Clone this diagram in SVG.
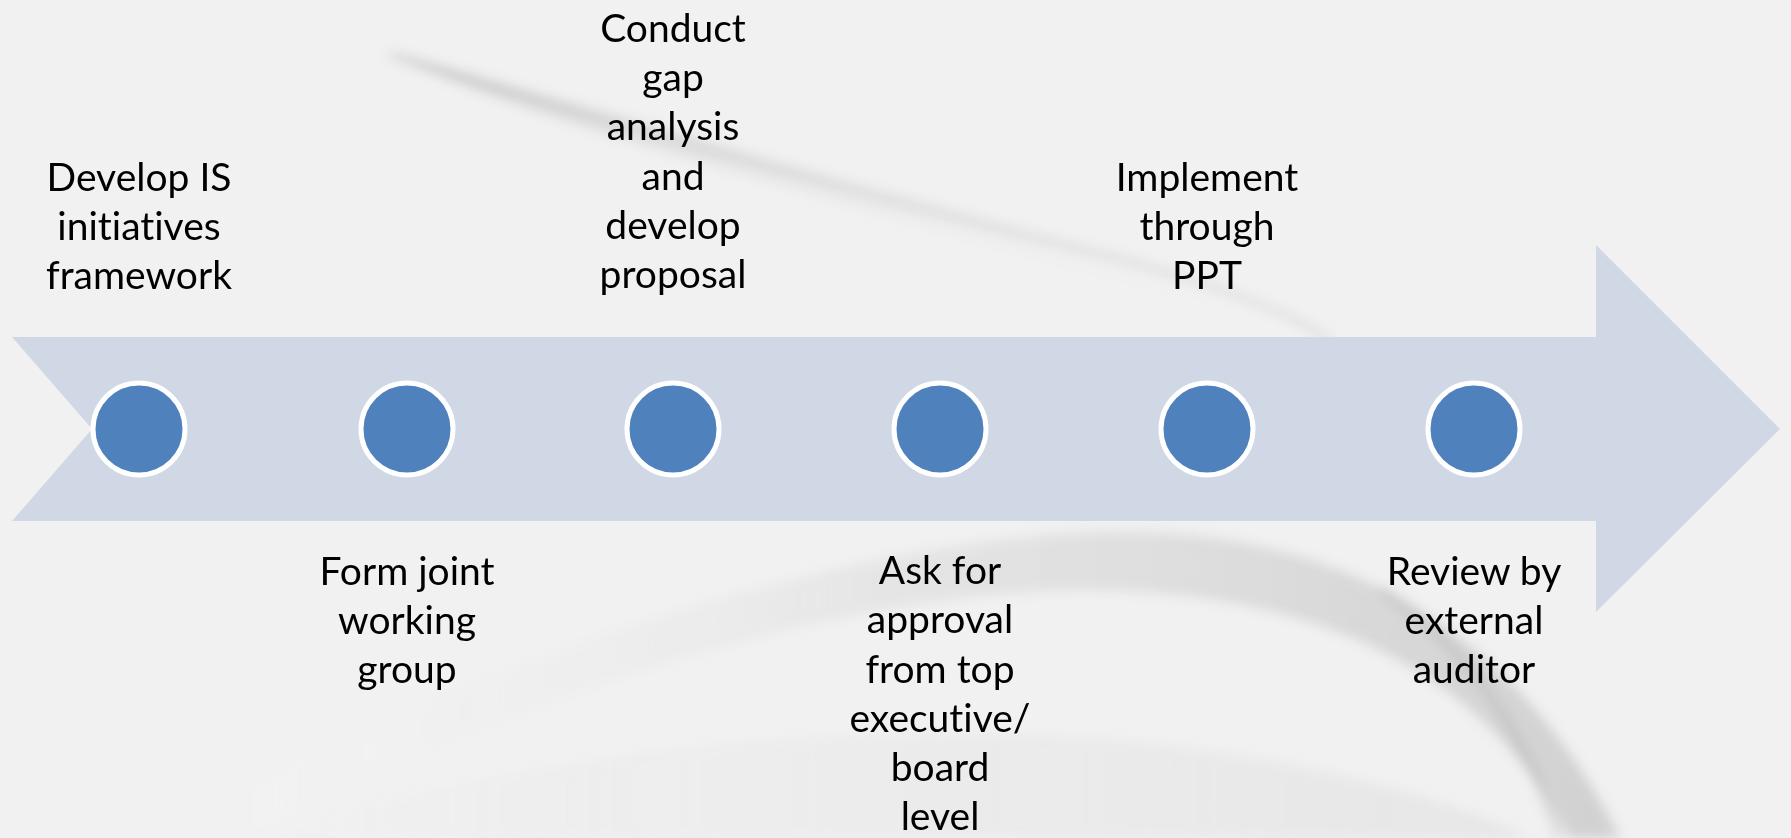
<svg xmlns="http://www.w3.org/2000/svg" width="1791" height="838" viewBox="0 0 1791 838">
<defs>
<linearGradient id="sw1" x1="0" y1="0" x2="0" y2="1">
<stop offset="0" stop-color="#a0a0a0" stop-opacity="0.45"/>
<stop offset="1" stop-color="#ffffff" stop-opacity="0"/>
</linearGradient>
<linearGradient id="sw2" gradientUnits="userSpaceOnUse" x1="140" y1="0" x2="1620" y2="0">
<stop offset="0" stop-color="#ffffff" stop-opacity="0"/>
<stop offset="0.5" stop-color="#d8d8d8" stop-opacity="0.45"/>
<stop offset="1" stop-color="#b0b0b0" stop-opacity="0.5"/>
</linearGradient>
<linearGradient id="sw3" gradientUnits="userSpaceOnUse" x1="240" y1="0" x2="1530" y2="0">
<stop offset="0" stop-color="#cccccc" stop-opacity="0"/>
<stop offset="1" stop-color="#c4c4c4" stop-opacity="0.45"/>
</linearGradient>
<filter id="blur" filterUnits="userSpaceOnUse" x="-50" y="-50" width="1891" height="938"><feGaussianBlur stdDeviation="6"/></filter>
<style>
.lbl{font-family:Lato,"Open Sans","Liberation Sans",sans-serif;font-size:39px;fill:#000;text-anchor:middle;font-variant-ligatures:none}
.dot{fill:#4f81bd;stroke:#ffffff;stroke-width:5}
</style>
</defs>
<rect width="1791" height="838" fill="#f1f1f1"/>
<g id="background" filter="url(#blur)">
<path d="M388,52 C600,110 900,200 1120,250 C1250,285 1310,320 1330,340 C1200,300 1000,250 800,190 C600,135 450,85 388,52 Z" fill="url(#sw1)"/>
<path d="M390,55 C620,125 900,205 1130,262 C1250,295 1310,325 1330,340" fill="none" stroke="#b0b0b0" stroke-width="5" opacity="0.35"/>
<path d="M140,838 C400,700 750,560 1050,535 C1300,515 1500,600 1620,838 L1570,838 C1480,660 1300,590 1080,590 C800,595 450,720 260,838 Z" fill="url(#sw2)"/>
<path d="M240,838 C500,760 800,720 1100,740 C1300,755 1450,800 1530,838 Z" fill="url(#sw3)" opacity="0.5"/>
<path d="M1560,838 C1520,720 1460,640 1380,590" fill="none" stroke="#a0a0a0" stroke-width="8" opacity="0.3"/>
</g>
<g id="arrow">
<polygon points="12,337 1596,337 1596,245 1780,429 1596,612 1596,521 12,521 92,429" fill="#d0d8e6"/>
</g>
<g id="connectors"></g>
<g id="node1"><circle class="dot" cx="139" cy="429" r="46"/>
<text class="lbl"><tspan x="139" y="191">Develop IS</tspan><tspan x="139" y="240">initiatives</tspan><tspan x="139" y="289">framework</tspan></text></g>
<g id="node2"><circle class="dot" cx="407" cy="429" r="46"/>
<text class="lbl"><tspan x="407" y="585">Form joint</tspan><tspan x="407" y="634">working</tspan><tspan x="407" y="683">group</tspan></text></g>
<g id="node3"><circle class="dot" cx="673" cy="429" r="46"/>
<text class="lbl"><tspan x="673" y="42">Conduct</tspan><tspan x="673" y="91">gap</tspan><tspan x="673" y="140">analysis</tspan><tspan x="673" y="190">and</tspan><tspan x="673" y="239">develop</tspan><tspan x="673" y="288">proposal</tspan></text></g>
<g id="node4"><circle class="dot" cx="940" cy="429" r="46"/>
<text class="lbl"><tspan x="940" y="584">Ask for</tspan><tspan x="940" y="633">approval</tspan><tspan x="940" y="683">from top</tspan><tspan x="940" y="732">executive/</tspan><tspan x="940" y="781">board</tspan><tspan x="940" y="830">level</tspan></text></g>
<g id="node5"><circle class="dot" cx="1207" cy="429" r="46"/>
<text class="lbl"><tspan x="1207" y="191">Implement</tspan><tspan x="1207" y="240">through</tspan><tspan x="1207" y="289">PPT</tspan></text></g>
<g id="node6"><circle class="dot" cx="1474" cy="429" r="46"/>
<text class="lbl"><tspan x="1474" y="585">Review by</tspan><tspan x="1474" y="634">external</tspan><tspan x="1474" y="683">auditor</tspan></text></g>
</svg>
